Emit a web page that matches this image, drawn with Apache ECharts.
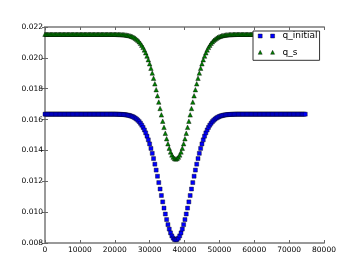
<!DOCTYPE html>
<html>
<head>
<meta charset="utf-8">
<script src="https://cdn.jsdelivr.net/npm/echarts@6/dist/echarts.min.js"></script>
<style>
html,body{margin:0;padding:0;background:#fff;}
#c{width:360px;height:270px;}
</style>
</head>
<body>
<div id="c"></div>
<script>
// x positions (distance)
const xs = [
0,375,750,1125,1500,1875,2250,2625,3000,3375,
3750,4125,4500,4875,5250,5625,6000,6375,6750,7125,
7500,7875,8250,8625,9000,9375,9750,10125,10500,10875,
11250,11625,12000,12375,12750,13125,13500,13875,14250,14625,
15000,15375,15750,16125,16500,16875,17250,17625,18000,18375,
18750,19125,19500,19875,20250,20625,21000,21375,21750,22125,
22500,22875,23250,23625,24000,24375,24750,25125,25500,25875,
26250,26625,27000,27375,27750,28125,28500,28875,29250,29625,
30000,30375,30750,31125,31500,31875,32250,32625,33000,33375,
33750,34125,34500,34875,35250,35625,36000,36375,36750,37125,
37500,37875,38250,38625,39000,39375,39750,40125,40500,40875,
41250,41625,42000,42375,42750,43125,43500,43875,44250,44625,
45000,45375,45750,46125,46500,46875,47250,47625,48000,48375,
48750,49125,49500,49875,50250,50625,51000,51375,51750,52125,
52500,52875,53250,53625,54000,54375,54750,55125,55500,55875,
56250,56625,57000,57375,57750,58125,58500,58875,59250,59625,
60000,60375,60750,61125,61500,61875,62250,62625,63000,63375,
63750,64125,64500,64875,65250,65625,66000,66375,66750,67125,
67500,67875,68250,68625,69000,69375,69750,70125,70500,70875,
71250,71625,72000,72375,72750,73125,73500,73875,74250,74625
];
const qInitial = [
0.01635,0.01635,0.01635,0.01635,0.01635,0.01635,0.01635,0.01635,0.01635,0.01635,
0.01635,0.01635,0.01635,0.01635,0.01635,0.01635,0.01635,0.01635,0.01635,0.01635,
0.01635,0.01635,0.01635,0.01635,0.01635,0.01635,0.01635,0.01635,0.01635,0.01635,
0.01635,0.01635,0.01635,0.01635,0.01635,0.01635,0.01635,0.01635,0.01635,0.01635,
0.01635,0.01635,0.01635,0.01635,0.01635,0.01635,0.01635,0.01635,0.01635,0.01635,
0.01635,0.01635,0.01635,0.01635,0.01635,0.016344,0.016342,0.016340,0.016336,0.016331,
0.016324,0.016316,0.016305,0.016291,0.016273,0.016251,0.016223,0.016189,0.016146,0.016094,
0.016031,0.015956,0.015866,0.015760,0.015636,0.015492,0.015327,0.015138,0.014925,0.014686,
0.014421,0.014130,0.013813,0.013472,0.013109,0.012726,0.012327,0.011916,0.011498,0.011079,
0.010665,0.010263,0.009878,0.009519,0.009191,0.008902,0.008656,0.008460,0.008317,0.008229,
0.008200,0.008229,0.008317,0.008460,0.008656,0.008902,0.009191,0.009519,0.009878,0.010263,
0.010665,0.011079,0.011498,0.011916,0.012327,0.012726,0.013109,0.013472,0.013813,0.014130,
0.014421,0.014686,0.014925,0.015138,0.015327,0.015492,0.015636,0.015760,0.015866,0.015956,
0.016031,0.016094,0.016146,0.016189,0.016223,0.016251,0.016273,0.016291,0.016305,0.016316,
0.016324,0.016331,0.016336,0.016340,0.016342,0.016344,0.01635,0.01635,0.01635,0.01635,
0.01635,0.01635,0.01635,0.01635,0.01635,0.01635,0.01635,0.01635,0.01635,0.01635,
0.01635,0.01635,0.01635,0.01635,0.01635,0.01635,0.01635,0.01635,0.01635,0.01635,
0.01635,0.01635,0.01635,0.01635,0.01635,0.01635,0.01635,0.01635,0.01635,0.01635,
0.01635,0.01635,0.01635,0.01635,0.01635,0.01635,0.01635,0.01635,0.01635,0.01635,
0.01635,0.01635,0.01635,0.01635,0.01635,0.01635,0.01635,0.01635,0.01635,0.01635
];
const qS = [
0.02153,0.02153,0.02153,0.02153,0.02153,0.02153,0.02153,0.02153,0.02153,0.02153,
0.02153,0.02153,0.02153,0.02153,0.02153,0.02153,0.02153,0.02153,0.02153,0.02153,
0.02153,0.02153,0.02153,0.02153,0.02153,0.02153,0.02153,0.02153,0.02153,0.02153,
0.02153,0.02153,0.02153,0.02153,0.02153,0.02153,0.02153,0.02153,0.02153,0.02153,
0.02153,0.02153,0.02153,0.02153,0.02153,0.02153,0.02153,0.02153,0.02153,0.02153,
0.02153,0.02153,0.02153,0.02153,0.02153,0.021524,0.021522,0.021520,0.021516,0.021511,
0.021505,0.021496,0.021486,0.021472,0.021454,0.021432,0.021404,0.021370,0.021328,0.021276,
0.021214,0.021139,0.021050,0.020945,0.020822,0.020680,0.020515,0.020328,0.020117,0.019880,
0.019617,0.019329,0.019015,0.018677,0.018317,0.017937,0.017542,0.017134,0.016720,0.016305,
0.015894,0.015495,0.015114,0.014757,0.014433,0.014146,0.013903,0.013708,0.013566,0.013479,
0.013450,0.013479,0.013566,0.013708,0.013903,0.014146,0.014433,0.014757,0.015114,0.015495,
0.015894,0.016305,0.016720,0.017134,0.017542,0.017937,0.018317,0.018677,0.019015,0.019329,
0.019617,0.019880,0.020117,0.020328,0.020515,0.020680,0.020822,0.020945,0.021050,0.021139,
0.021214,0.021276,0.021328,0.021370,0.021404,0.021432,0.021454,0.021472,0.021486,0.021496,
0.021505,0.021511,0.021516,0.021520,0.021522,0.021524,0.02153,0.02153,0.02153,0.02153,
0.02153,0.02153,0.02153,0.02153,0.02153,0.02153,0.02153,0.02153,0.02153,0.02153,
0.02153,0.02153,0.02153,0.02153,0.02153,0.02153,0.02153,0.02153,0.02153,0.02153,
0.02153,0.02153,0.02153,0.02153,0.02153,0.02153,0.02153,0.02153,0.02153,0.02153,
0.02153,0.02153,0.02153,0.02153,0.02153,0.02153,0.02153,0.02153,0.02153,0.02153,
0.02153,0.02153,0.02153,0.02153,0.02153,0.02153,0.02153,0.02153,0.02153,0.02153
];
const seriesNames = ['q_initial', 'q_s'];
const seriesColors = ['#0000ff', '#008000'];

const FONT = 'DejaVu Sans';
const spine = { show: true, lineStyle: { color: '#999', width: 2 } };
const tick = { show: true, inside: true, length: 3, lineStyle: { color: '#666', width: 1 } };

const chart = echarts.init(document.getElementById('c'), null, { renderer: 'canvas' });
chart.setOption({
  animation: false,
  backgroundColor: '#fff',
  grid: { left: 45, right: 36, top: 27, bottom: 27, containLabel: false },
  xAxis: [
    { type: 'value', min: 0, max: 80000, interval: 10000, position: 'bottom',
      axisLine: spine, axisTick: tick, splitLine: { show: false },
      axisLabel: { color: '#000', fontFamily: FONT, fontSize: 7.5, margin: 3,
        formatter: v => String(Math.round(v)) } },
    { type: 'value', min: 0, max: 80000, interval: 10000, position: 'top',
      axisLine: spine, axisTick: tick, splitLine: { show: false }, axisLabel: { show: false } }
  ],
  yAxis: [
    { type: 'value', min: 0.008, max: 0.022, interval: 0.002, position: 'left',
      axisLine: spine, axisTick: tick, splitLine: { show: false },
      axisLabel: { color: '#000', fontFamily: FONT, fontSize: 7.5, margin: 2,
        formatter: v => v.toFixed(3) } },
    { type: 'value', min: 0.008, max: 0.022, interval: 0.002, position: 'right',
      axisLine: spine, axisTick: tick, splitLine: { show: false }, axisLabel: { show: false } }
  ],
  legend: {
    left: 253, top: 31, orient: 'vertical',
    backgroundColor: '#fff', borderColor: '#333', borderWidth: 1, borderRadius: 0,
    padding: [0, 2, 3, 5], itemGap: 6.3,
    itemWidth: 16.4, itemHeight: 4,
    textStyle: { color: '#000', fontFamily: FONT, fontSize: 9, lineHeight: 10, padding: [0, 0, 0, 3] },
    data: [
      { name: seriesNames[0], icon: 'path://M0,0L4,0L4,4L0,4Z M12.4,0L16.4,0L16.4,4L12.4,4Z',
        itemStyle: { color: seriesColors[0], borderColor: '#000', borderWidth: 0.4 } },
      { name: seriesNames[1], icon: 'path://M2,0L4,4L0,4Z M14.4,0L16.4,4L12.4,4Z',
        itemStyle: { color: seriesColors[1], borderColor: '#000', borderWidth: 0.4 } }
    ]
  },
  series: [
    { name: seriesNames[0], type: 'scatter', symbol: 'rect', symbolSize: 4,
      xAxisIndex: 0, yAxisIndex: 0,
      itemStyle: { color: seriesColors[0], borderColor: '#000', borderWidth: 0.4, opacity: 1 },
      emphasis: { disabled: true },
      data: xs.map((x, i) => [x, qInitial[i]]) },
    { name: seriesNames[1], type: 'scatter', symbol: 'triangle', symbolSize: 4.5,
      xAxisIndex: 0, yAxisIndex: 0,
      itemStyle: { color: seriesColors[1], borderColor: '#000', borderWidth: 0.4, opacity: 1 },
      emphasis: { disabled: true },
      data: xs.map((x, i) => [x, qS[i]]) }
  ]
});
</script>
</body>
</html>
